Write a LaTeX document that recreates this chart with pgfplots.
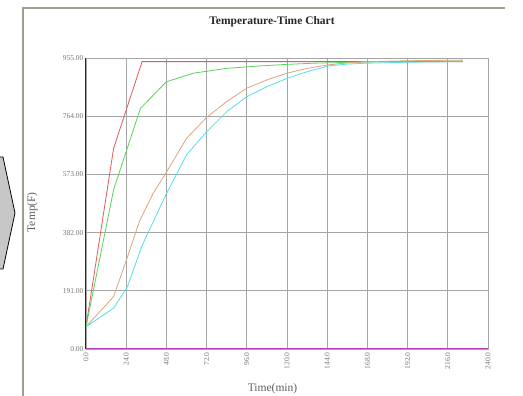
\documentclass[border=0pt]{standalone}
\usepackage{pgfplots}
\pgfplotsset{compat=1.18}
\usepackage{fontspec}
\setmainfont{Liberation Serif}
\definecolor{cred}{RGB}{232,88,88}
\definecolor{cgreen}{RGB}{88,212,88}
\definecolor{cbrown}{RGB}{222,165,125}
\definecolor{ccyan}{RGB}{88,222,235}
\definecolor{cmag}{RGB}{185,60,185}
\definecolor{cgrid}{RGB}{165,165,165}
\definecolor{cframe}{RGB}{160,160,140}
\definecolor{ctext}{RGB}{95,95,95}
\definecolor{cticks}{RGB}{120,120,120}
\begin{document}
\begin{tikzpicture}
\useasboundingbox (0pt,0pt) rectangle (523pt,396pt);
\fill[white] (0pt,0pt) rectangle (523pt,396pt);
\draw[cframe,line width=1.2pt] (23pt,0pt) -- (23pt,388pt) -- (505pt,388pt);
\filldraw[fill=black!22,draw=black,line width=0.8pt] (-2pt,239pt) -- (3pt,239pt) -- (15pt,183pt) -- (3pt,127pt) -- (-2pt,127pt);
\node[font=\bfseries\fontsize{11.5}{12}\selectfont,text=black!85] at (272pt,374pt) {Temperature-Time Chart};
\begin{axis}[
  at={(86pt,47pt)}, anchor=south west,
  scale only axis, width=402pt, height=291pt,
  xmin=0, xmax=240, ymin=0, ymax=955,
  xtick={0,24,...,240}, ytick={0,191,382,573,764,955},
  grid=major, grid style={cgrid,line width=0.6pt},
  axis line style={cgrid,line width=0.6pt},
  major tick length=0pt,
  /pgf/number format/assume math mode=true,
  tick label style={font=\fontsize{7.5}{8}\selectfont,text=cticks},
  yticklabel style={xshift=1pt,/pgf/number format/.cd,fixed,fixed zerofill,precision=2},
  xticklabel style={rotate=90,anchor=east,/pgf/number format/.cd,fixed,fixed zerofill,precision=1},
  xlabel={Time(min)}, ylabel={Temp(F)},
  label style={font=\fontsize{11.5}{12}\selectfont,text=ctext},
  xlabel style={at={(axis description cs:0.464,0)},anchor=north,yshift=-31pt},
  ylabel style={at={(axis description cs:0,0.47)},anchor=south,yshift=45pt},
  every axis plot/.append style={line width=0.8pt},
  clip=false,
]
\addplot[cred] coordinates {(0,73) (16.5,659) (33.5,943) (225,943)};
\addplot[cgreen] coordinates {(0,73) (16.5,523) (32.5,790) (48,877) (64,905) (84,921) (104,929) (120,934) (136,938) (152,940) (168,942) (192,944) (225,945)};
\addplot[cbrown] coordinates {(0,73) (16.5,172) (24,290) (32,420) (40,510) (48,580) (60,691) (72,760) (84,812) (96,856) (108,883) (120,905) (132,921) (144,932) (156,939) (168,943) (192,946) (225,948)};
\addplot[ccyan] coordinates {(0,73) (16.5,134) (24.7,204) (33.6,341) (47.6,505) (60,637) (72,713) (84,779) (96,828) (108,861) (120,888) (132,910) (144.7,929) (156,935) (168,938) (192,941) (225,943)};
\addplot[cmag,line width=1pt] coordinates {(0,0) (240,0)};
\draw[black!85,line width=1pt] (axis cs:0,0) -- (axis cs:0,955);
\end{axis}
\end{tikzpicture}
\end{document}
